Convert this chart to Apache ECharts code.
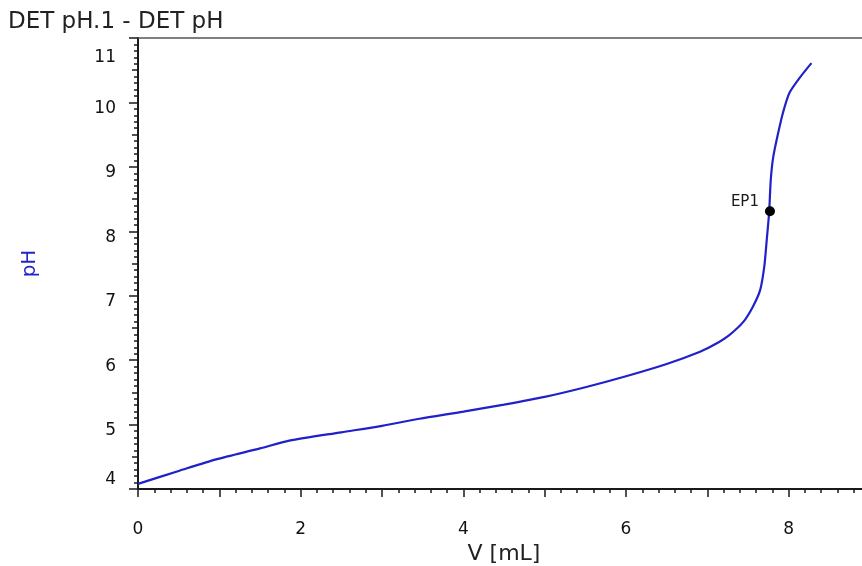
<!DOCTYPE html>
<html>
<head>
<meta charset="utf-8">
<script src="https://cdn.jsdelivr.net/npm/echarts@6/dist/echarts.min.js"></script>
<style>
  html, body { margin: 0; padding: 0; background: #fff; }
  #chart { width: 862px; height: 566px; }
</style>
</head>
<body>
<div id="chart"></div>
<script>
// Titration curve: dispensed volume (mL) against measured pH
const volume = [0, 0.5, 0.96, 1.5, 1.86, 2.5, 3, 3.46, 4, 4.5, 5, 5.5, 6, 6.5, 6.91, 7.1, 7.27, 7.44, 7.56, 7.65, 7.70, 7.73, 7.76, 7.78, 7.81, 7.87, 7.93, 8.01, 8.14, 8.28];
const pH     = [4.08, 4.28, 4.46, 4.63, 4.75, 4.88, 4.98, 5.09, 5.20, 5.31, 5.43, 5.58, 5.75, 5.94, 6.13, 6.25, 6.39, 6.59, 6.83, 7.09, 7.45, 7.86, 8.30, 8.80, 9.15, 9.52, 9.84, 10.15, 10.39, 10.61];

// Equivalence point
const endpointName = 'EP1';
const endpoint = [7.77, 8.31];

const titleText = 'DET pH.1 - DET pH';
const xName = 'V [mL]';
const yName = 'pH';

const curve = volume.map((v, i) => [v, pH[i]]);

const axisColor = '#1a1a1a';
const labelColor = '#111';
const font = 'DejaVu Sans';

const chart = echarts.init(document.getElementById('chart'), null, { renderer: 'canvas' });

chart.setOption({
  animation: false,
  backgroundColor: '#fff',
  title: {
    text: titleText,
    left: 3,
    top: 6,
    textStyle: { fontFamily: font, fontSize: 23, fontWeight: 'normal', color: '#222' }
  },
  // the volume scale runs to 9 mL, slightly past the right edge of the page
  grid: { left: 138, top: 38, width: 732, height: 451, containLabel: false, outerBoundsMode: 'none' },
  xAxis: [
    {
      type: 'value',
      min: 0, max: 9, interval: 1,
      position: 'bottom',
      name: xName,
      nameLocation: 'middle',
      nameGap: 46,
      nameTextStyle: { fontFamily: font, fontSize: 22, color: '#222' },
      axisLine: { show: true, onZero: false, lineStyle: { color: axisColor, width: 2 } },
      axisTick: { show: true, inside: false, length: 8, lineStyle: { color: axisColor, width: 1.5 } },
      minorTick: { show: true, splitNumber: 5, length: 4, lineStyle: { color: axisColor, width: 1.5 } },
      splitLine: { show: false },
      axisLabel: {
        margin: 32,
        fontFamily: font, fontSize: 17, color: labelColor,
        formatter: v => (Math.abs(v % 2) < 1e-9 && v < 9 ? String(v) : '')
      }
    },
    {
      // top frame line
      type: 'value',
      min: 0, max: 9,
      position: 'top',
      axisLine: { show: true, onZero: false, lineStyle: { color: '#555', width: 1.5 } },
      axisTick: { show: false },
      axisLabel: { show: false },
      splitLine: { show: false }
    }
  ],
  yAxis: [
    {
      type: 'value',
      min: 4, max: 11, interval: 1,
      position: 'left',
      name: yName,
      nameLocation: 'middle',
      nameGap: 98,
      nameRotate: 90,
      nameTextStyle: { fontFamily: font, fontSize: 20, color: '#2424c8' },
      axisLine: { show: true, onZero: false, lineStyle: { color: axisColor, width: 2 } },
      axisTick: { show: true, inside: false, length: 9, lineStyle: { color: axisColor, width: 1.5 } },
      minorTick: { show: true, splitNumber: 10, length: 4, lineStyle: { color: axisColor, width: 1.5 } },
      splitLine: { show: false },
      axisLabel: {
        margin: 22,
        fontFamily: font, fontSize: 17, color: labelColor,
        formatter: v => {
          if (v === 11) return '{top|' + v + '}';
          if (v === 4) return '{bot|' + v + '}';
          return '{n|' + v + '}';
        },
        rich: {
          n:   { fontFamily: font, fontSize: 17, color: labelColor, padding: [12, 0, 0, 0] },
          top: { fontFamily: font, fontSize: 17, color: labelColor, padding: [40, 0, 0, 0] },
          bot: { fontFamily: font, fontSize: 17, color: labelColor, padding: [0, 0, 18, 0] }
        }
      }
    },
    {
      // half-unit ticks on the pH scale
      type: 'value',
      min: 4, max: 11, interval: 0.5,
      position: 'left',
      axisLine: { show: false, onZero: false },
      axisTick: { show: true, inside: false, length: 6, lineStyle: { color: axisColor, width: 1.5 } },
      axisLabel: { show: false },
      splitLine: { show: false }
    }
  ],
  series: [
    {
      type: 'line',
      xAxisIndex: 0,
      yAxisIndex: 0,
      data: curve,
      showSymbol: false,
      smooth: 0.25,
      lineStyle: { color: '#2121c9', width: 2.2 },
      z: 2
    },
    {
      type: 'scatter',
      xAxisIndex: 0,
      yAxisIndex: 0,
      data: [{ value: endpoint, name: endpointName }],
      symbol: 'circle',
      symbolSize: 10,
      itemStyle: { color: '#000', opacity: 1 },
      label: {
        show: true,
        position: 'left',
        distance: 6,
        offset: [0, -9],
        formatter: p => p.name,
        fontFamily: font,
        fontSize: 15,
        color: '#1a1a1a'
      },
      z: 3
    }
  ]
});
</script>
</body>
</html>
